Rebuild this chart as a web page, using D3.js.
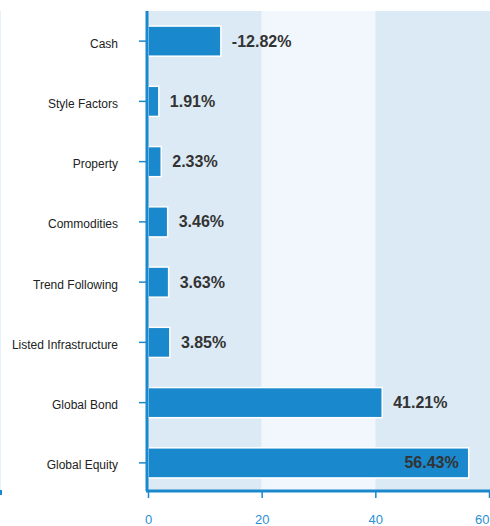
<!DOCTYPE html>
<html>
<head>
<meta charset="utf-8">
<script src="https://cdn.jsdelivr.net/npm/d3@7"></script>
<style>
  html, body { margin: 0; padding: 0; background: #ffffff; }
  svg { display: block; font-family: "Liberation Sans", Arial, Helvetica, sans-serif; }
</style>
</head>
<body>
<svg id="chart" width="490" height="526"></svg>
<script>
// Asset class contributions
const categories = ["Cash", "Style Factors", "Property", "Commodities", "Trend Following",
                    "Listed Infrastructure", "Global Bond", "Global Equity"];
const values = [-12.82, 1.91, 2.33, 3.46, 3.63, 3.85, 41.21, 56.43];
const xTicks = [0, 20, 40, 60];
const bands = [[0, 20], [20, 40], [40, 60]];

const svg = d3.select("#chart");
const margin = { top: 11, right: 1, bottom: 35, left: 148 };
const width = 490, height = 526;
const innerBottom = height - margin.bottom;

const x = d3.scaleLinear().domain([0, 60]).range([margin.left, 489]);
const y = d3.scaleBand().domain(categories).range([margin.top, margin.top + 482]).paddingInner(0.5).paddingOuter(0.25);

const blue = "#1a88cc";

// Alternating background bands
svg.append("g").selectAll("rect").data(bands).join("rect")
  .attr("x", d => x(d[0]))
  .attr("y", margin.top)
  .attr("width", d => x(d[1]) - x(d[0]) + (d[1] === 60 ? 5 : 0))
  .attr("height", innerBottom - margin.top)
  .attr("fill", (d, i) => i % 2 === 0 ? "#dceaf5" : "#f1f7fc");

// Faint frame line on the far left
svg.append("line")
  .attr("x1", 0.5).attr("x2", 0.5)
  .attr("y1", margin.top).attr("y2", innerBottom)
  .attr("stroke", "#e6f0f8").attr("stroke-width", 1);
svg.append("line")
  .attr("x1", 1).attr("x2", 1)
  .attr("y1", innerBottom - 1).attr("y2", innerBottom + 4)
  .attr("stroke", blue).attr("stroke-width", 2);

// Bars (length from magnitude)
svg.append("g").selectAll("rect").data(values).join("rect")
  .attr("x", x(0))
  .attr("y", (d, i) => y(categories[i]))
  .attr("width", d => x(Math.abs(d)) - x(0))
  .attr("height", y.bandwidth())
  .attr("fill", blue)
  .attr("stroke", "#ffffff")
  .attr("stroke-width", 1.5);

// Value labels
svg.append("g").selectAll("text").data(values).join("text")
  .attr("x", d => {
    const end = x(Math.abs(d));
    return end > 440 ? end - 10 : end + 11;
  })
  .attr("y", (d, i) => y(categories[i]) + y.bandwidth() / 2)
  .attr("dy", "0.35em")
  .attr("text-anchor", d => x(Math.abs(d)) > 440 ? "end" : "start")
  .attr("font-size", 16)
  .attr("font-weight", "bold")
  .attr("fill", "#333333")
  .text(d => d.toFixed(2) + "%");

// Left axis with category labels
const yAxis = svg.append("g")
  .attr("transform", `translate(${x(0) - 1},0)`)
  .call(d3.axisLeft(y).tickSize(8).tickPadding(21));
yAxis.select(".domain").attr("stroke", blue).attr("stroke-width", 3)
  .attr("d", `M0,${margin.top}V${innerBottom}`);
yAxis.selectAll(".tick line").attr("stroke", blue).attr("stroke-width", 1.5);
yAxis.selectAll(".tick text").attr("font-size", 12).attr("fill", "#222222")
  .attr("dy", "0.55em")
  .attr("font-family", "'Liberation Sans', Arial, sans-serif");

// Bottom axis
const xAxis = svg.append("g")
  .attr("transform", `translate(0,${innerBottom})`)
  .call(d3.axisBottom(x).tickValues(xTicks).tickSize(7).tickPadding(17));
xAxis.select(".domain").attr("stroke", blue).attr("stroke-width", 3)
  .attr("d", `M${x(0) - 2},0H${width}`);
xAxis.selectAll(".tick line").attr("stroke", blue).attr("stroke-width", 1.5);
xAxis.selectAll(".tick text").attr("font-size", 13).attr("fill", "#2b8fd6")
  .attr("font-family", "'Liberation Sans', Arial, sans-serif")
  .filter(d => d === 60)
  .attr("text-anchor", "end")
  .attr("dx", 0);
</script>
</body>
</html>
